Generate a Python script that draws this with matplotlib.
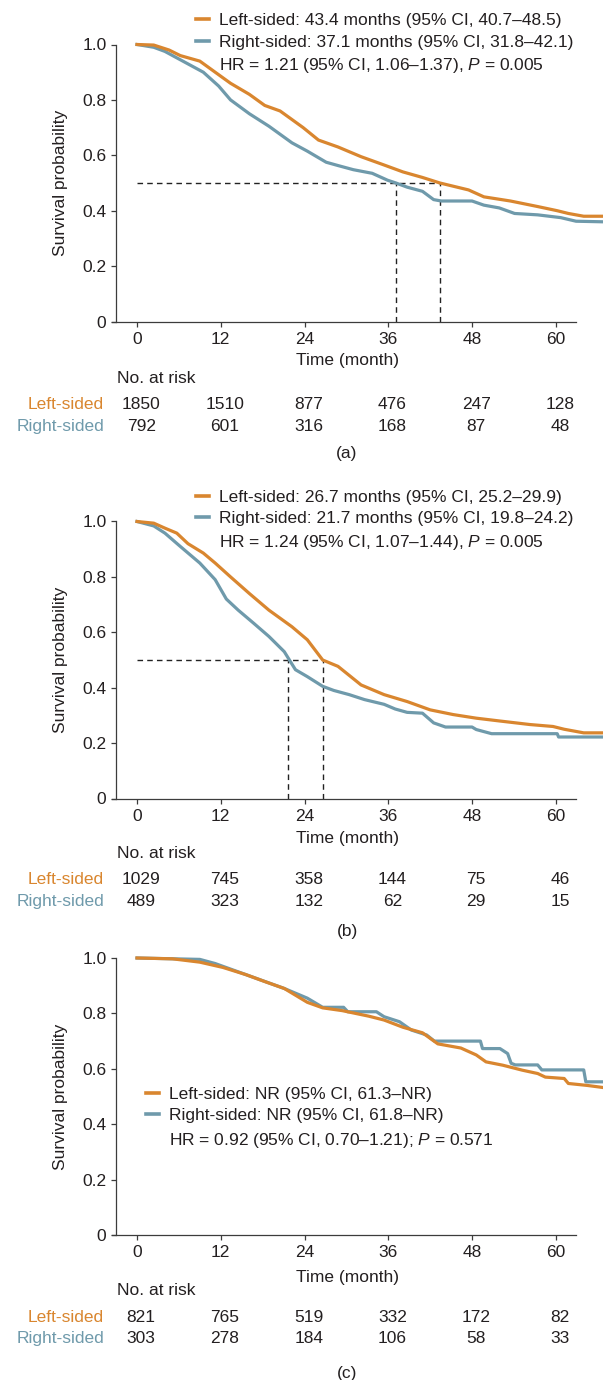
import matplotlib.pyplot as plt
import matplotlib.transforms as mtransforms
from matplotlib.lines import Line2D

plt.rcParams['font.family'] = ['Liberation Sans', 'DejaVu Sans']
plt.rcParams['mathtext.fontset'] = 'custom'
plt.rcParams['mathtext.rm'] = 'Liberation Sans'
plt.rcParams['mathtext.it'] = 'Liberation Sans:italic'

ORANGE = '#d9862f'
BLUE = '#6f9aab'
TEXT = '#231f20'
SPINE = '#3c3c3c'

# ---- data ----
months = [0, 12, 24, 36, 48, 60]

a_left_t = [0, 2.4, 4.6, 6.2, 9, 11.2, 13.4, 16.1, 18.3, 20.5, 23.8, 26, 28.8, 32.1, 35.4, 38.1,
            40.9, 43.4, 47.5, 49.7, 53.5, 57.4, 60.2, 61.8, 64, 66.6]
a_left_s = [1.0, 0.998, 0.98, 0.96, 0.94, 0.90, 0.86, 0.82, 0.78, 0.76, 0.70, 0.655, 0.63, 0.595, 0.565, 0.54,
            0.52, 0.50, 0.475, 0.45, 0.435, 0.415, 0.40, 0.39, 0.38, 0.38]
a_right_t = [0, 2.4, 4, 6.2, 9.5, 11.7, 13.4, 16.1, 18.9, 22.2, 24.4, 27.1, 28.8, 31, 33.7, 35.9, 37.1,
             38.7, 40.9, 42.5, 43.6, 48, 49.7, 51.9, 54.1, 57.4, 60.7, 62.9, 66.6]
a_right_s = [1.0, 0.99, 0.975, 0.945, 0.90, 0.85, 0.80, 0.75, 0.705, 0.645, 0.615, 0.575, 0.563, 0.548, 0.535, 0.51, 0.50,
             0.485, 0.47, 0.44, 0.435, 0.435, 0.42, 0.41, 0.39, 0.385, 0.375, 0.362, 0.36]

b_left_t = [0, 2.4, 4, 5.7, 7.3, 9.5, 11.2, 13.4, 16.1, 18.9, 22.2, 24.4, 26.6, 28.8, 32.1, 35.4, 38.7,
            42, 45.3, 48.6, 51.9, 56.3, 59.6, 61.2, 64, 66.6]
b_left_s = [1.0, 0.994, 0.976, 0.958, 0.92, 0.886, 0.85, 0.80, 0.74, 0.68, 0.62, 0.573, 0.50, 0.477, 0.41, 0.375, 0.35,
            0.32, 0.303, 0.29, 0.28, 0.267, 0.26, 0.25, 0.237, 0.237]
b_right_t = [0, 2.4, 4, 6.2, 9, 11.2, 12.8, 14.5, 16.7, 18.9, 21.1, 22.7, 24.4, 26.6, 28.2, 30.4, 32.6, 35.4,
             37, 38.7, 40.9, 42.5, 44.2, 48, 48.6, 50.8, 60.2, 60.4, 66.6]
b_right_s = [1.0, 0.984, 0.958, 0.91, 0.85, 0.79, 0.72, 0.68, 0.633, 0.585, 0.53, 0.465, 0.44, 0.405, 0.39, 0.375, 0.357, 0.34,
             0.323, 0.311, 0.308, 0.273, 0.258, 0.258, 0.249, 0.234, 0.234, 0.222, 0.222]

c_left_t = [0, 5.1, 9, 12.3, 15.6, 18.3, 21.1, 24.4, 26.6, 29.4, 33.2, 35.4, 38.1, 40.9, 43.1, 46.4, 48.6,
            50, 52.4, 55.2, 57.4, 58.5, 61.2, 61.8, 64.5, 66.6]
c_left_s = [1.0, 0.997, 0.985, 0.966, 0.94, 0.915, 0.89, 0.84, 0.82, 0.81, 0.79, 0.776, 0.75, 0.73, 0.69, 0.675, 0.65,
            0.625, 0.613, 0.595, 0.583, 0.57, 0.565, 0.547, 0.54, 0.533]
c_right_t = [0, 9, 11.2, 14.5, 17.8, 21.1, 24.4, 26.6, 29.6, 30.2, 34.3, 35.4, 37.6, 39.3, 41.5, 42.6, 49.2,
             49.5, 52, 53.1, 53.6, 54.2, 57.4, 58, 64, 64.3, 66.6]
c_right_s = [1.0, 0.995, 0.98, 0.95, 0.92, 0.89, 0.855, 0.822, 0.822, 0.806, 0.806, 0.788, 0.77, 0.74, 0.722, 0.70, 0.70,
             0.673, 0.673, 0.655, 0.62, 0.614, 0.614, 0.596, 0.596, 0.553, 0.553]

a_medians = [43.4, 37.1]
b_medians = [26.7, 21.7]
c_medians = []

a_risk_left = [1850, 1510, 877, 476, 247, 128]
a_risk_right = [792, 601, 316, 168, 87, 48]
b_risk_left = [1029, 745, 358, 144, 75, 46]
b_risk_right = [489, 323, 132, 62, 29, 15]
c_risk_left = [821, 765, 519, 332, 172, 82]
c_risk_right = [303, 278, 184, 106, 58, 33]

a_legend = ['Left-sided: 43.4 months (95% CI, 40.7\u201348.5)',
            'Right-sided: 37.1 months (95% CI, 31.8\u201342.1)',
            'HR = 1.21 (95% CI, 1.06\u20131.37), $\\mathit{P}$ = 0.005']
b_legend = ['Left-sided: 26.7 months (95% CI, 25.2\u201329.9)',
            'Right-sided: 21.7 months (95% CI, 19.8\u201324.2)',
            'HR = 1.24 (95% CI, 1.07\u20131.44), $\\mathit{P}$ = 0.005']
c_legend = ['Left-sided: NR (95% CI, 61.3\u2013NR)',
            'Right-sided: NR (95% CI, 61.8\u2013NR)',
            'HR = 0.92 (95% CI, 0.70\u20131.21); $\\mathit{P}$ = 0.571']

# ---- layout (pixels) ----
W, H = 603, 1380
FS = 12.5
def fy(p):
    return 1 - p / H

fig = plt.figure(figsize=(W / 100, H / 100), dpi=100)

panels = [
    dict(L=(a_left_t, a_left_s), R=(a_right_t, a_right_s), med=a_medians, risk=(a_risk_left, a_risk_right),
         leg=a_legend, top=44.5, bot=321.5, legy=[19.3, 40.7, 64], legx=196,
         xl=359, head=376.7, rows=[403, 425], tag='(a)', tagy=451.7),
    dict(L=(b_left_t, b_left_s), R=(b_right_t, b_right_s), med=b_medians, risk=(b_risk_left, b_risk_right),
         leg=b_legend, top=521.5, bot=798.5, legy=[496, 517.3, 540.7], legx=196,
         xl=837.3, head=851.7, rows=[878.3, 900], tag='(b)', tagy=930),
    dict(L=(c_left_t, c_left_s), R=(c_right_t, c_right_s), med=c_medians, risk=(c_risk_left, c_risk_right),
         leg=c_legend, top=958, bot=1235, legy=[1092.7, 1114, 1139.3], legx=146,
         xl=1275.7, head=1289.3, rows=[1316, 1337.3], tag='(c)', tagy=1371.7),
]

X0PX, PXM = 137, 6.98
AXL = 112
xlo = -(X0PX - AXL) / PXM
xhi = (W - X0PX) / PXM
BASE = 6.0  # centre -> baseline offset in px

for p in panels:
    ax = fig.add_axes([AXL / W, fy(p['bot']), (W - AXL) / W, (p['bot'] - p['top']) / H])
    ax.set_xlim(xlo, xhi)
    ax.set_ylim(0, 1)
    ax.patch.set_alpha(0)
    for s in ['top', 'right']:
        ax.spines[s].set_visible(False)
    ax.spines['left'].set_position(('data', -3.0))
    ax.spines['left'].set_bounds(0, 1)
    ax.spines['bottom'].set_bounds(xlo, 62.9)
    for s in ['left', 'bottom']:
        ax.spines[s].set_color(SPINE)
        ax.spines[s].set_linewidth(0.9)
    ax.set_xticks(months)
    ax.set_xticklabels([str(m) for m in months])
    ax.set_yticks([0, 0.2, 0.4, 0.6, 0.8, 1.0])
    ax.set_yticklabels(['0', '0.2', '0.4', '0.6', '0.8', '1.0'])
    ax.tick_params(direction='out', length=3.4, width=0.9, color=SPINE, labelcolor=TEXT, labelsize=FS)
    ax.tick_params(axis='y', pad=3.5)
    ax.tick_params(axis='x', pad=4.0)

    # median guide lines
    if p['med']:
        ax.plot([0, max(p['med'])], [0.5, 0.5], color='#222222', lw=1.0, dashes=(4, 3))
        for m in p['med']:
            ax.plot([m, m], [0, 0.5], color='#222222', lw=1.0, dashes=(4, 3))

    ax.plot(*p['R'], color=BLUE, lw=2.3, clip_on=False, zorder=3)
    ax.plot(*p['L'], color=ORANGE, lw=2.3, clip_on=False, zorder=3)

    # legend block
    for i, (txt, y) in enumerate(zip(p['leg'], p['legy'])):
        if i < 2:
            col = ORANGE if i == 0 else BLUE
            fig.add_artist(Line2D([p['legx'] / W, (p['legx'] + 13) / W], [fy(y), fy(y)],
                                  color=col, lw=2.6, transform=fig.transFigure))
        fig.text((p['legx'] + 23) / W, fy(y + BASE), txt, fontsize=FS, color=TEXT, va='baseline')

    trans = mtransforms.blended_transform_factory(ax.transData, fig.transFigure)
    ax.text(30.1, fy(p['xl'] + BASE), 'Time (month)', transform=trans, ha='center', va='baseline',
            fontsize=FS, color=TEXT)
    fig.text(60 / W, fy((p['top'] + p['bot']) / 2), 'Survival probability', rotation=90,
             ha='center', va='center', fontsize=FS, color=TEXT)

    # numbers at risk
    fig.text(117 / W, fy(p['head'] + BASE), 'No. at risk', fontsize=FS, color=TEXT, va='baseline')
    for name, col, vals, y in zip(['Left-sided', 'Right-sided'], [ORANGE, BLUE], p['risk'], p['rows']):
        fig.text(104 / W, fy(y + BASE), name, ha='right', va='baseline', fontsize=FS, color=col)
        for m, n in zip(months, vals):
            ax.text(m + 0.6, fy(y + BASE), str(n), transform=trans, ha='center', va='baseline',
                    fontsize=FS, color=TEXT)
    fig.text(347 / W, fy(p['tagy'] + BASE), p['tag'], ha='center', va='baseline', fontsize=FS, color=TEXT)

fig.savefig('out.png', dpi=100)
